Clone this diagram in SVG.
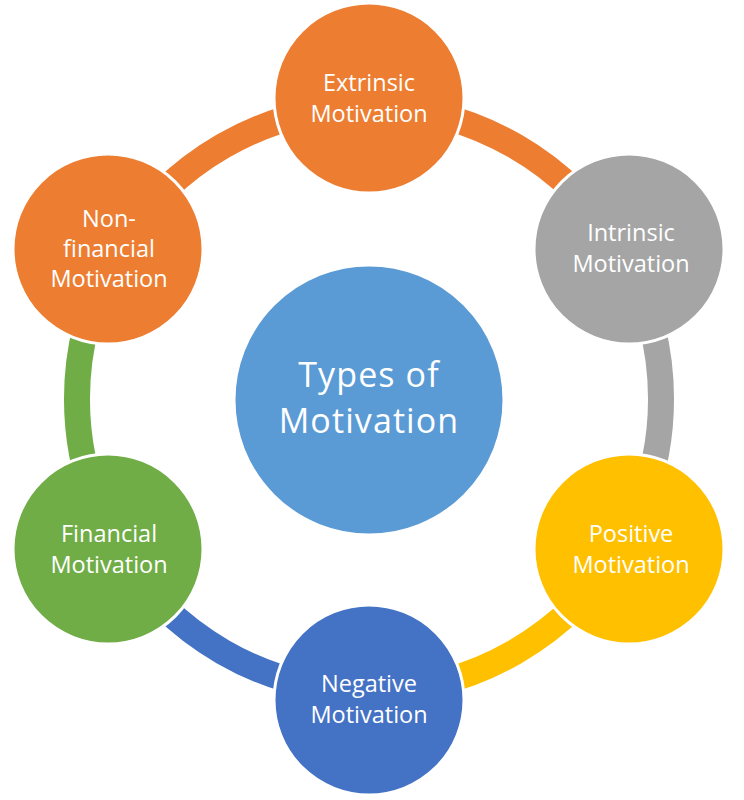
<svg xmlns="http://www.w3.org/2000/svg" width="744" height="800" viewBox="0 0 744 800">
<style>
.arc{fill:none;stroke-width:26;stroke-linecap:butt}
.node{stroke:#ffffff;stroke-width:3}
.lbl{font-family:"Open Sans","Noto Sans","Liberation Sans",sans-serif;font-size:23.5px;fill:#ffffff;text-anchor:middle}
.title{font-family:"Open Sans","Noto Sans","Liberation Sans",sans-serif;font-size:34px;fill:#ffffff;text-anchor:middle;letter-spacing:1.1px}
</style>
<rect x="0" y="0" width="744" height="800" fill="#ffffff"/>
<g id="connectors">
<path class="arc" stroke="#ED7D31" d="M 369 107 A 292 292 0 0 1 621.9 253"/>
<path class="arc" stroke="#A5A5A5" d="M 621.9 253 A 292 292 0 0 1 621.9 545"/>
<path class="arc" stroke="#FFC000" d="M 621.9 545 A 292 292 0 0 1 369 691"/>
<path class="arc" stroke="#4472C4" d="M 369 691 A 292 292 0 0 1 116.1 545"/>
<path class="arc" stroke="#70AD47" d="M 116.1 545 A 292 292 0 0 1 116.1 253"/>
<path class="arc" stroke="#ED7D31" d="M 116.1 253 A 292 292 0 0 1 369 107"/>
</g>
<g id="center">
<circle cx="369" cy="400" r="135" fill="#5B9BD5" class="node"/>
<text class="title" x="369" y="387">Types of</text>
<text class="title" x="369" y="433">Motivation</text>
</g>
<g id="extrinsic">
<circle cx="369" cy="98" r="95" fill="#ED7D31" class="node"/>
<text class="lbl" x="369" y="91">Extrinsic</text>
<text class="lbl" x="369" y="122">Motivation</text>
</g>
<g id="intrinsic">
<circle cx="629" cy="249" r="95" fill="#A5A5A5" class="node"/>
<text class="lbl" x="631" y="241">Intrinsic</text>
<text class="lbl" x="631" y="272">Motivation</text>
</g>
<g id="positive">
<circle cx="629" cy="549" r="95" fill="#FFC000" class="node"/>
<text class="lbl" x="631" y="542">Positive</text>
<text class="lbl" x="631" y="573">Motivation</text>
</g>
<g id="negative">
<circle cx="369" cy="700" r="95" fill="#4472C4" class="node"/>
<text class="lbl" x="369" y="692">Negative</text>
<text class="lbl" x="369" y="723">Motivation</text>
</g>
<g id="financial">
<circle cx="108" cy="549" r="95" fill="#70AD47" class="node"/>
<text class="lbl" x="109" y="542">Financial</text>
<text class="lbl" x="109" y="573">Motivation</text>
</g>
<g id="nonfinancial">
<circle cx="108" cy="249" r="95" fill="#ED7D31" class="node"/>
<text class="lbl" x="109" y="227">Non-</text>
<text class="lbl" x="109" y="257">financial</text>
<text class="lbl" x="109" y="287">Motivation</text>
</g>
</svg>
